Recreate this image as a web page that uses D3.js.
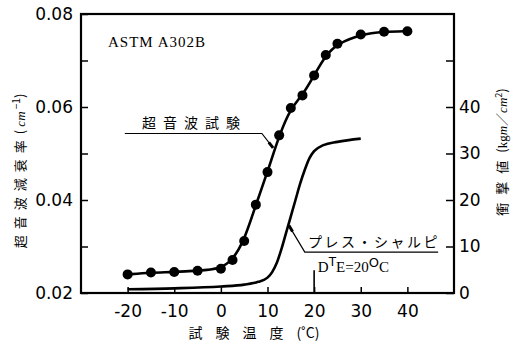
<!DOCTYPE html>
<html>
<head>
<meta charset="utf-8">
<script src="https://cdn.jsdelivr.net/npm/d3@7"></script>
<style>
  body { margin: 0; background: #fff; }
  svg { display: block; }
</style>
</head>
<body>
<div id="chart"></div>
<script>
// ultrasonic test: attenuation (cm^-1) vs test temperature (°C)
const tempUltra = [-20, -15, -10, -5, 0, 2.5, 5, 7.5, 10, 12.5, 15, 17.5, 20, 22.5, 25, 30, 35, 40];
const attenUltra = [0.0240, 0.0244, 0.0245, 0.0248, 0.0252, 0.0271, 0.0312, 0.0390, 0.0460, 0.0539,
                    0.0598, 0.0625, 0.0668, 0.0712, 0.0736, 0.0756, 0.0762, 0.0763];

// press charpy: impact value (kgm/cm2)
const tempCharpy = [-20, -10, 0, 5, 8, 10, 11, 12, 13, 14, 15, 16, 17, 18, 19, 20, 22, 25, 30];
const impactCharpy = [0.8, 1.0, 1.4, 1.8, 2.4, 3.3, 4.5, 6.5, 9.5, 13, 16.5, 20, 23.5, 26.5, 29, 30.5, 31.8, 32.5, 33.2];

const xTicks = [-20, -10, 0, 10, 20, 30, 40];
const leftTicks = [0.02, 0.04, 0.06, 0.08];
const leftMinor = [0.03, 0.05, 0.07];
const rightTicks = [0, 10, 20, 30, 40];
const rightMinor = [50];
const dteTemp = 20;

const W = 511, H = 345;
const margin = { top: 14, right: 57, bottom: 52, left: 81 };
const width = W - margin.left - margin.right;
const height = H - margin.top - margin.bottom;

const svg = d3.select('#chart').append('svg')
  .attr('width', W)
  .attr('height', H);

const g = svg.append('g')
  .attr('transform', `translate(${margin.left},${margin.top})`);

const x = d3.scaleLinear().domain([-30, 50]).range([0, width]);
const yL = d3.scaleLinear().domain([0.02, 0.08]).range([height, 0]);
const yR = d3.scaleLinear().domain([0, 60]).range([height, 0]);

const numFont = '"DejaVu Sans", sans-serif';
const jpFont = '"Noto Sans CJK JP", sans-serif';
const serifFont = '"Liberation Serif", serif';

// left axis
g.append('g')
  .call(d3.axisLeft(yL).tickValues(leftTicks).tickFormat(d3.format('.2f'))
    .tickSizeInner(-7).tickSizeOuter(0).tickPadding(8))
  .call(a => {
    a.select('.domain').remove();
    a.selectAll('.tick line').attr('stroke-width', 1.5);
    a.selectAll('text').style('font-family', numFont).style('font-size', '17px');
  });
g.append('g')
  .call(d3.axisLeft(yL).tickValues(leftMinor).tickFormat('').tickSizeInner(-7).tickSizeOuter(0))
  .call(a => {
    a.select('.domain').remove();
    a.selectAll('.tick line').attr('stroke-width', 1.5);
  });

// right axis
g.append('g')
  .attr('transform', `translate(${width},0)`)
  .call(d3.axisRight(yR).tickValues(rightTicks.concat(rightMinor))
    .tickFormat(d => rightTicks.includes(d) ? String(d) : '')
    .tickSizeInner(-8).tickSizeOuter(0).tickPadding(5))
  .call(a => {
    a.select('.domain').remove();
    a.selectAll('.tick line').attr('stroke-width', 1.5);
    a.selectAll('text').style('font-family', numFont).style('font-size', '17px');
  });

// bottom axis
g.append('g')
  .attr('transform', `translate(0,${height})`)
  .call(d3.axisBottom(x).tickValues(xTicks).tickFormat(d => String(d))
    .tickSizeInner(-6).tickSizeOuter(0).tickPadding(12))
  .call(a => {
    a.select('.domain').remove();
    a.selectAll('.tick line').attr('stroke-width', 1.5);
    a.selectAll('text').style('font-family', numFont).style('font-size', '17px');
  });

// frame
g.append('rect')
  .attr('width', width)
  .attr('height', height)
  .attr('fill', 'none')
  .attr('stroke', '#000')
  .attr('stroke-width', 2.2);

// charpy curve
const charpy = tempCharpy.map((t, i) => ({ t, v: impactCharpy[i] }));
g.append('path')
  .datum(charpy)
  .attr('fill', 'none')
  .attr('stroke', '#000')
  .attr('stroke-width', 2.6)
  .attr('d', d3.line().x(d => x(d.t)).y(d => yR(d.v)).curve(d3.curveMonotoneX));

// ultrasonic curve + markers
const ultra = tempUltra.map((t, i) => ({ t, v: attenUltra[i] }));
g.append('path')
  .datum(ultra)
  .attr('fill', 'none')
  .attr('stroke', '#000')
  .attr('stroke-width', 2.6)
  .attr('d', d3.line().x(d => x(d.t)).y(d => yL(d.v)).curve(d3.curveBasis));

g.selectAll('.dot')
  .data(ultra)
  .enter().append('circle')
  .attr('class', 'dot')
  .attr('cx', d => x(d.t))
  .attr('cy', d => yL(d.v))
  .attr('r', 5)
  .attr('fill', '#000');

// DTE marker line
g.append('line')
  .attr('x1', x(dteTemp)).attr('x2', x(dteTemp))
  .attr('y1', yR(0)).attr('y2', yR(4.9))
  .attr('stroke', '#000')
  .attr('stroke-width', 1.6);

// leader lines (in data units)
function leader(pts, scaleY) {
  const p = pts.map(d => [x(d[0]), scaleY(d[1])]);
  g.append('path')
    .attr('d', d3.line()(p))
    .attr('fill', 'none')
    .attr('stroke', '#000')
    .attr('stroke-width', 1.2);
  // thick tip at the curve end
  const a = p[p.length - 2], b = p[p.length - 1];
  const len = Math.hypot(b[0] - a[0], b[1] - a[1]);
  const k = Math.min(1, 7 / len);
  g.append('line')
    .attr('x1', b[0] - (b[0] - a[0]) * k).attr('y1', b[1] - (b[1] - a[1]) * k)
    .attr('x2', b[0]).attr('y2', b[1])
    .attr('stroke', '#000')
    .attr('stroke-width', 3);
}
leader([[-20.6, 0.0543], [8.8, 0.0543], [11.2, 0.0512]], yL);
leader([[46.6, 8.8], [18.0, 8.8], [14.6, 14.5]], yR);

// labels inside plot
g.append('text')
  .attr('x', x(-24.2)).attr('y', yL(0.0729))
  .style('font-family', serifFont).style('font-size', '15px')
  .style('letter-spacing', '1px')
  .text('ASTM A302B');

g.append('text')
  .attr('x', x(-16.9)).attr('y', yL(0.0554))
  .style('font-family', jpFont).style('font-size', '14px')
  .style('letter-spacing', '7px')
  .text('超音波試験');

g.append('text')
  .attr('x', x(18.7)).attr('y', yR(9.9))
  .style('font-family', jpFont).style('font-size', '14px')
  .style('letter-spacing', '2.5px')
  .text('プレス・シャルピ');

const dte = g.append('text')
  .attr('x', x(20.8)).attr('y', yR(4.5))
  .style('font-family', serifFont).style('font-size', '15px');
dte.append('tspan').text('D');
dte.append('tspan').attr('dy', -6).style('font-size', '12px').style('font-family', numFont).text('T');
dte.append('tspan').attr('dy', 6).text('E=20');
dte.append('tspan').attr('dy', -5).style('font-size', '13px').style('font-family', numFont).text('O');
dte.append('tspan').attr('dy', 5).text('C');

// axis titles
const yTitle = svg.append('text')
  .attr('transform', `translate(25,171) rotate(-90)`)
  .attr('text-anchor', 'middle')
  .style('font-family', jpFont).style('font-size', '13px');
yTitle.append('tspan').style('letter-spacing', '6px').text('超音波減衰率');
yTitle.append('tspan').text('(');
yTitle.append('tspan').style('font-style', 'italic').style('font-family', serifFont).text(' cm');
yTitle.append('tspan').attr('dy', -5).style('font-size', '10px').text(' −1');
yTitle.append('tspan').attr('dy', 5).text(')');

const rTitle = svg.append('text')
  .attr('transform', `translate(507,152) rotate(-90)`)
  .attr('text-anchor', 'middle')
  .style('font-family', jpFont).style('font-size', '13px');
rTitle.append('tspan').style('letter-spacing', '8px').text('衝撃値');
rTitle.append('tspan').text('(');
rTitle.append('tspan').style('font-family', serifFont).text('kg');
rTitle.append('tspan').style('font-family', serifFont).style('font-style', 'italic').text('m');
rTitle.append('tspan').text('／');
rTitle.append('tspan').style('font-family', serifFont).style('font-style', 'italic').text('cm');
rTitle.append('tspan').attr('dy', -5).style('font-size', '9px').text('2');
rTitle.append('tspan').attr('dy', 5).text(')');

svg.append('text')
  .attr('x', 254).attr('y', 338)
  .attr('text-anchor', 'middle')
  .style('font-family', jpFont).style('font-size', '14px')
  .html('<tspan style="letter-spacing:13px">試験温度</tspan>(˚C)');
</script>
</body>
</html>
